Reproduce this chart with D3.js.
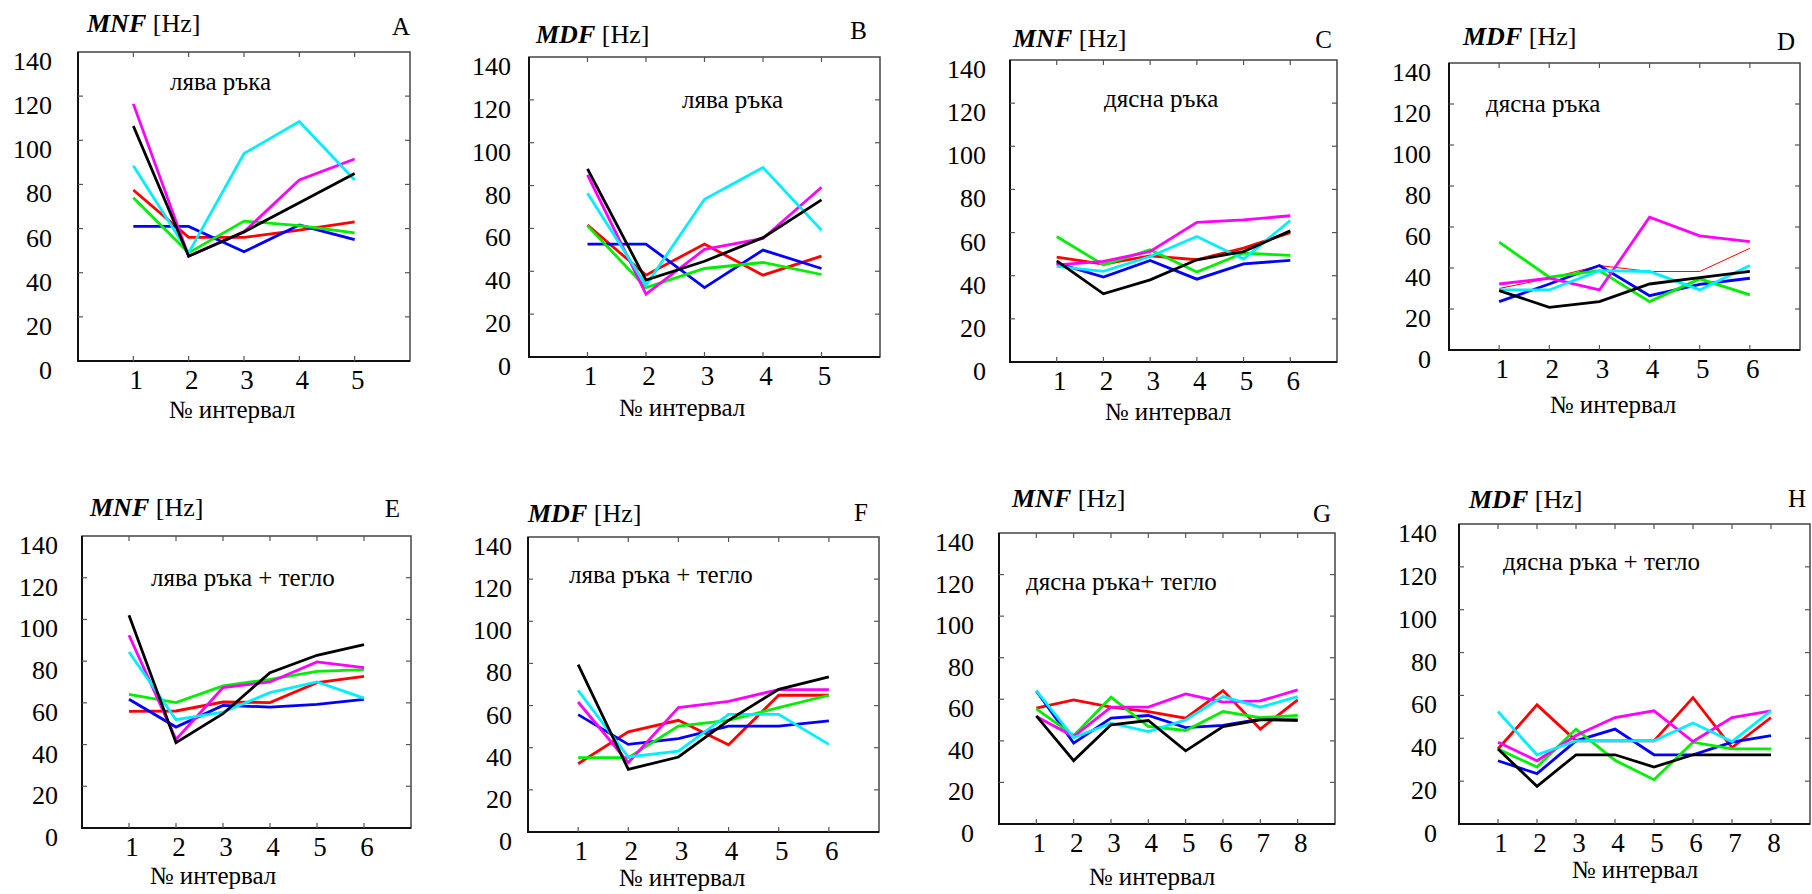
<!DOCTYPE html>
<html>
<head>
<meta charset="utf-8">
<style>
  body { margin: 0; background: #fff; }
</style>
</head>
<body>
<svg></svg>
<script src="https://cdn.jsdelivr.net/npm/d3@7"></script>
<script>

  // ---- data ----
  const panelIds = ["A", "B", "C", "D", "E", "F", "G", "H"]
  const metrics = ["MNF", "MDF", "MNF", "MDF", "MNF", "MDF", "MNF", "MDF"]
  const innerLabels = ["лява ръка", "лява ръка", "дясна ръка", "дясна ръка",
                       "лява ръка + тегло", "лява ръка + тегло", "дясна ръка+ тегло", "дясна ръка + тегло"]
  const intervalCounts = [5, 5, 6, 6, 6, 6, 8, 8]
  const yTickValues = [0, 20, 40, 60, 80, 100, 120, 140]
  const xAxisTitle = "№ интервал"
  const unit = " [Hz]"

  // series order: red, blue, green, magenta, cyan, black
  const seriesColors = ["#ff0000", "#0000ff", "#00ee00", "#ff00ff", "#00eeff", "#000000"]

  const dataA = [
    [77.5, 56, 56, 59.3, 63],
    [61, 61, 49.5, 61.6, 55],
    [74, 49, 63.4, 61.3, 58],
    [116.5, 47.5, 58.5, 82, 91.5],
    [88.5, 49, 94, 108.5, 82],
    [106.5, 47.5, 58.5, 71.7, 85]
  ]
  const dataB = [
    [61.6, 38.2, 52.7, 38.2, 47.1],
    [52.7, 52.7, 32.4, 49.9, 41.3],
    [61.3, 32.4, 41.3, 44.1, 38.5],
    [85, 29.3, 50.2, 55.3, 79.2],
    [76.4, 33.5, 73.6, 88.4, 59.2],
    [87.8, 35.9, 44.7, 55.7, 73.3]
  ]
  const dataC = [
    [48.6, 45.4, 49.2, 47.4, 52.8, 60],
    [45.8, 39.4, 47.1, 38.4, 45.5, 47.1],
    [58.2, 45, 52, 41.7, 50.5, 49.4],
    [45, 46.6, 51.2, 64.7, 65.9, 67.8],
    [44.3, 42, 48.9, 58.2, 47.7, 65.6],
    [46.9, 31.6, 38.1, 47.4, 51.2, 60.8]
  ]
  const dataD = [
    [30, 35, 41.2, 38.3, 38.3, 49.6],
    [23.6, 32.2, 41.2, 26.5, 32, 35],
    [52.6, 35.5, 38.7, 23.6, 34.7, 26.9],
    [32.2, 35, 29.3, 64.8, 55.7, 52.9],
    [29.3, 29.3, 38.7, 38.3, 29.3, 41.2],
    [29, 20.8, 23.6, 32.2, 35.3, 38.3]
  ]
  const dataE = [
    [55.9, 56.1, 60.4, 60.1, 69.7, 72.7],
    [61.7, 48.4, 58.8, 58, 59.3, 61.7],
    [64.1, 60.1, 68.1, 71.3, 75.1, 75.9],
    [92.4, 42.5, 67.3, 70, 79.6, 76.9],
    [84.4, 51.9, 55.6, 64.9, 70, 62.3],
    [102, 40.9, 54.8, 74.5, 82.8, 87.9]
  ]
  const dataF = [
    [32.4, 47.5, 53, 41.4, 64.9, 64.9],
    [55.7, 41.6, 44.3, 50.2, 50.2, 52.7],
    [35.3, 35.3, 50.3, 53, 59, 64.9],
    [61.7, 32.9, 59, 62, 67.6, 67.6],
    [67.2, 35.6, 38.4, 55.8, 55.8, 41.6],
    [79.4, 29.7, 35.6, 53, 67.7, 73.6]
  ]
  const dataG = [
    [55.7, 59.7, 56.2, 54.1, 50.9, 64.2, 45.6, 59.7],
    [64, 38.9, 50.9, 52.2, 46.4, 47.4, 50.4, 49.8],
    [55.4, 42.5, 61, 46.9, 45, 54.1, 51.2, 52.2],
    [51.7, 42.1, 56.2, 56.2, 62.6, 58.6, 59.2, 64.5],
    [64.2, 41.6, 48.5, 44.5, 50.1, 61.3, 56.2, 61.3],
    [52, 30.5, 47.7, 49.8, 35.2, 46.9, 50.1, 50.1]
  ]
  const dataH = [
    [35, 55.6, 38.8, 38.8, 38.8, 59, 35.7, 49.7],
    [29.5, 23.5, 38.8, 44.3, 32.3, 32.3, 38.2, 41.2],
    [35, 26.6, 44.3, 29.7, 20.7, 38.2, 35.1, 35.1],
    [38.2, 29.5, 41.3, 49.7, 52.8, 38.5, 49.7, 52.8],
    [52.5, 32.3, 38.8, 38.8, 38.8, 47.1, 38.5, 52.8],
    [35, 17.6, 32.3, 32.3, 26.6, 32.3, 32.3, 32.3]
  ]
  const panelData = [dataA, dataB, dataC, dataD, dataE, dataF, dataG, dataH]
  // thin series (panel index -> series index)
  const thinSeries = {3: 0}

  // ---- layout (pixel positions of each panel) ----
  const layout = [
    {box: [78, 52, 410, 361],   title: [87, 32],     letter: [410, 35],   inner: [170, 90],    yOff: 26, axis: [232, 418]},
    {box: [529, 57, 880, 357],  title: [536, 43],    letter: [867, 39],   inner: [682, 108],   yOff: 18, axis: [682, 416]},
    {box: [1010, 60, 1337, 362], title: [1013, 47],  letter: [1332, 48],  inner: [1104, 107],  yOff: 24, axis: [1168, 420]},
    {box: [1449, 63, 1800, 350], title: [1463, 45],  letter: [1795, 50],  inner: [1486, 112],  yOff: 18, axis: [1613, 413]},
    {box: [82, 536, 411, 828],  title: [90, 516],    letter: [400, 517],  inner: [151, 586],   yOff: 24, axis: [213, 884]},
    {box: [528, 537, 879, 832], title: [528, 522],   letter: [868, 521],  inner: [569, 583],   yOff: 16, axis: [682, 886]},
    {box: [999, 533, 1335, 824], title: [1012, 507], letter: [1331, 522], inner: [1026, 590],  yOff: 25, axis: [1152, 885]},
    {box: [1459, 524, 1810, 824], title: [1469, 508], letter: [1806, 507], inner: [1503, 570], yOff: 22, axis: [1635, 878]}
  ]

  const fontSize = 25
  const yTickSize = 26
  const xTickSize = 27
  const fontFamily = "'Times New Roman', 'Liberation Serif', 'DejaVu Serif', serif"
  const width = 1812, height = 894

  const svg = d3.select("svg")
    .attr("width", width)
    .attr("height", height)
    .style("font-family", fontFamily)

  panelIds.forEach((id, p) => {
    const L = layout[p]
    const [left, top, right, bottom] = L.box
    const n = intervalCounts[p]
    const xs = d3.range(1, n + 1)

    const xScale = d3.scaleLinear().domain([0, n + 1]).range([left, right])
    const yScale = d3.scaleLinear().domain([0, 140]).range([bottom, top])

    const g = svg.append("g").attr("id", "panel" + id)

    // frame
    g.append("rect")
      .attr("x", left).attr("y", top)
      .attr("width", right - left).attr("height", bottom - top)
      .attr("fill", "none")
      .attr("stroke", "#444")
      .attr("stroke-width", 1.5)
    g.append("path")
      .attr("d", `M${left},${top}V${bottom}H${right}`)
      .attr("fill", "none")
      .attr("stroke", "#111")
      .attr("stroke-width", 2)

    // inward ticks, all four sides
    const tickLen = 5
    yTickValues.slice(1, -1).forEach(v => {
      g.append("line").attr("x1", left).attr("x2", left + tickLen)
        .attr("y1", yScale(v)).attr("y2", yScale(v))
        .attr("stroke", "#555").attr("stroke-width", 1.2)
      g.append("line").attr("x1", right).attr("x2", right - tickLen)
        .attr("y1", yScale(v)).attr("y2", yScale(v))
        .attr("stroke", "#555").attr("stroke-width", 1.2)
    })
    xs.forEach(v => {
      g.append("line").attr("x1", xScale(v)).attr("x2", xScale(v))
        .attr("y1", bottom).attr("y2", bottom - tickLen)
        .attr("stroke", "#555").attr("stroke-width", 1.2)
      g.append("line").attr("x1", xScale(v)).attr("x2", xScale(v))
        .attr("y1", top).attr("y2", top + tickLen)
        .attr("stroke", "#555").attr("stroke-width", 1.2)
    })

    // y tick labels
    g.selectAll(".ylab")
      .data(yTickValues)
      .enter()
      .append("text")
      .attr("class", "ylab")
      .attr("x", left - L.yOff)
      .attr("y", d => yScale(d) + 18)
      .style("text-anchor", "end")
      .style("font-family", fontFamily)
      .style("font-size", yTickSize + "px")
      .text(d => d)

    // x tick labels
    g.selectAll(".xlab")
      .data(xs)
      .enter()
      .append("text")
      .attr("class", "xlab")
      .attr("x", d => xScale(d) + 3)
      .attr("y", bottom + 28)
      .style("text-anchor", "middle")
      .style("font-family", fontFamily)
      .style("font-size", xTickSize + "px")
      .text(d => d)

    // axis title
    g.append("text")
      .attr("x", L.axis[0]).attr("y", L.axis[1])
      .style("text-anchor", "middle")
      .style("font-family", fontFamily)
      .style("font-size", fontSize + "px")
      .text(xAxisTitle)

    // panel title
    const t = g.append("text")
      .attr("x", L.title[0]).attr("y", L.title[1])
      .style("font-family", fontFamily)
      .style("font-size", "26px")
    t.append("tspan")
      .style("font-weight", "bold")
      .style("font-style", "italic")
      .text(metrics[p])
    t.append("tspan").text(unit)

    // panel letter
    g.append("text")
      .attr("x", L.letter[0]).attr("y", L.letter[1])
      .style("text-anchor", "end")
      .style("font-family", fontFamily)
      .style("font-size", fontSize + "px")
      .text(id)

    // inner label
    g.append("text")
      .attr("x", L.inner[0]).attr("y", L.inner[1])
      .style("font-family", fontFamily)
      .style("font-size", fontSize + "px")
      .text(innerLabels[p])

    // lines
    const line = d3.line()
      .x((d, i) => xScale(i + 1))
      .y(d => yScale(d))

    panelData[p].forEach((series, s) => {
      g.append("path")
        .datum(series)
        .attr("d", line)
        .attr("fill", "none")
        .attr("stroke", seriesColors[s])
        .attr("stroke-width", thinSeries[p] === s ? 1 : 2.8)
        .attr("stroke-linejoin", "miter")
    })
  })

</script>
</body>
</html>
